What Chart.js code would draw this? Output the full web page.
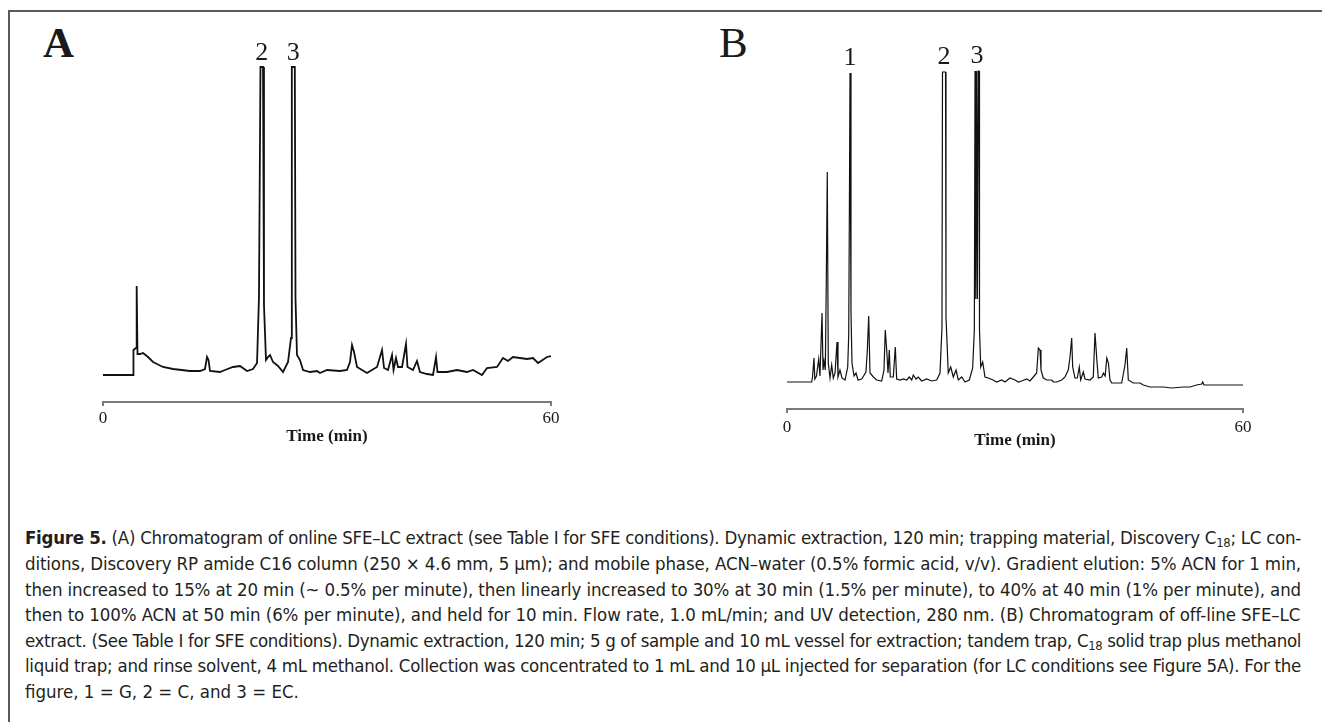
<!DOCTYPE html>
<html>
<head>
<meta charset="utf-8">
<script src="https://cdn.jsdelivr.net/npm/chart.js@4.4.1/dist/chart.umd.min.js"></script>
<style>
  html, body { margin: 0; padding: 0; background: #fff; }
  body { width: 1322px; height: 722px; position: relative; overflow: hidden; }
  .frame { position: absolute; left: 8px; top: 10px; width: 1400px; height: 800px;
           border-top: 2px solid #5a5a5a; border-left: 2px solid #5a5a5a; box-sizing: border-box; }
  .panel { position: absolute; font-family: "Liberation Serif", serif; font-size: 43px;
           line-height: 43px; color: #1a1a1a; }
  canvas.c { position: absolute; }
  .cap { position: absolute; left: 25px; width: 1276px; height: 26px; line-height: 26px;
         font-family: "Liberation Sans Narrow", "DejaVu Sans Condensed", sans-serif;
         font-size: 18.5px; color: #231f20; white-space: nowrap; }
  .cap span.t { display: inline-block; }
  .cap b { font-weight: bold; }
  .cap sub { font-size: 0.7em; line-height: 0; vertical-align: -0.25em; }
</style>
</head>
<body>
<div class="frame"></div>
<div class="panel" style="left:43px; top:21px; font-weight:bold;">A</div>
<div class="panel" style="left:719px; top:21px;">B</div>

<div style="position:absolute;left:80px;top:20px;width:500px;height:440px;"><canvas id="chartA" class="c"></canvas></div>
<div style="position:absolute;left:765px;top:20px;width:500px;height:440px;"><canvas id="chartB" class="c"></canvas></div>

<div class="cap" style="top:525px;"><span class="t"><b>Figure 5.</b> (A) Chromatogram of online SFE–LC extract (see Table I for SFE conditions). Dynamic extraction, 120 min; trapping material, Discovery C<sub>18</sub>; LC con-</span></div>
<div class="cap" style="top:551px;"><span class="t">ditions, Discovery RP amide C16 column (250 × 4.6 mm, 5 µm); and mobile phase, ACN–water (0.5% formic acid, v/v). Gradient elution: 5% ACN for 1 min,</span></div>
<div class="cap" style="top:577px;"><span class="t">then increased to 15% at 20 min (~ 0.5% per minute), then linearly increased to 30% at 30 min (1.5% per minute), to 40% at 40 min (1% per minute), and</span></div>
<div class="cap" style="top:602px;"><span class="t">then to 100% ACN at 50 min (6% per minute), and held for 10 min. Flow rate, 1.0 mL/min; and UV detection, 280 nm. (B) Chromatogram of off-line SFE–LC</span></div>
<div class="cap" style="top:628px;"><span class="t">extract. (See Table I for SFE conditions). Dynamic extraction, 120 min; 5 g of sample and 10 mL vessel for extraction; tandem trap, C<sub>18</sub> solid trap plus methanol</span></div>
<div class="cap" style="top:653px;"><span class="t">liquid trap; and rinse solvent, 4 mL methanol. Collection was concentrated to 1 mL and 10 µL injected for separation (for LC conditions see Figure 5A). For the</span></div>
<div class="cap last" style="top:679px;"><span class="t">figure, 1 = G, 2 = C, and 3 = EC.</span></div>

<script>
// ---------------- DATA ----------------
const xTickValues = [0, 60];
const xAxisTitle = 'Time (min)';

// Panel A: online SFE–LC (time in min, detector signal in arbitrary units)
const timesA = [0, 3.62, 4.02, 4.08, 4.42, 4.51, 4.62, 4.96, 5.36, 6.03, 6.70, 8.04, 9.38, 11.65, 12.99, 13.66, 13.93, 14.13, 14.33, 15.67, 16.34, 17.41, 18.35, 19.29, 20.09, 20.63, 20.89, 21.09, 21.43, 21.56, 21.83, 22.10, 22.37, 22.77, 23.44, 24.11, 24.78, 25.18, 25.29, 25.69, 25.78, 25.98, 26.38, 26.79, 27.72, 28.66, 29.06, 30.00, 31.74, 32.68, 33.08, 33.35, 33.62, 34.02, 35.36, 36.70, 37.37, 37.64, 38.17, 38.71, 38.91, 39.24, 39.51, 40.05, 40.58, 40.78, 41.52, 42.05, 42.45, 43.39, 44.20, 44.60, 44.80, 46.07, 47.41, 48.75, 49.55, 50.76, 51.43, 52.77, 53.57, 54.24, 54.91, 56.79, 57.59, 58.26, 59.46, 60];
const signalA = [27, 27, 27, 52, 54, 116, 48, 48, 49, 45, 40, 35, 33, 31, 31, 33, 45, 42, 31, 30, 32, 35, 36, 31, 33, 39, 105, 335, 335, 97, 42, 45, 47, 40, 36, 30, 40, 64, 335, 335, 104, 47, 42, 32, 30, 31, 29, 32, 31, 32, 40, 57, 50, 35, 29, 35, 52, 34, 32, 47, 32, 44, 35, 35, 58, 35, 32, 41, 30, 28, 27, 45, 30, 30, 32, 30, 32, 27, 34, 35, 44, 41, 45, 43, 44, 39, 45, 46];
const peakNamesA = ['2', '3'];
const peakTimesA = [21.26, 25.49];
const peakTopsA = [335, 335];

// Panel B: off-line SFE–LC
const timesB = [0, 3.25, 3.36, 3.55, 3.66, 3.88, 4.17, 4.34, 4.61, 4.74, 4.87, 5.04, 5.17, 5.30, 5.43, 5.66, 5.88, 6.09, 6.32, 6.58, 6.71, 6.97, 7.24, 7.63, 7.99, 8.12, 8.22, 8.29, 8.42, 8.55, 8.82, 9.08, 9.34, 9.83, 10.39, 10.57, 10.75, 10.92, 11.36, 11.80, 12.46, 12.76, 12.93, 13.12, 13.29, 13.46, 13.59, 13.99, 14.25, 14.43, 14.87, 15.30, 15.75, 16.09, 16.41, 16.62, 16.97, 17.28, 17.72, 18.38, 19.04, 19.70, 20.13, 20.39, 20.46, 20.86, 20.92, 21.22, 21.54, 21.88, 22.24, 22.54, 22.99, 23.42, 23.99, 24.43, 24.65, 24.74, 24.84, 24.95, 25.05, 25.16, 25.27, 25.33, 25.49, 25.75, 26.05, 26.49, 27.11, 27.59, 28.25, 28.68, 29.34, 30.00, 30.44, 30.88, 31.54, 31.97, 32.41, 32.85, 33.07, 33.29, 33.42, 33.72, 34.17, 34.83, 35.05, 35.49, 36.14, 36.58, 37.01, 37.24, 37.46, 37.59, 37.89, 38.20, 38.46, 38.64, 38.99, 39.21, 39.87, 40.30, 40.53, 40.75, 40.96, 41.41, 41.63, 41.86, 42.08, 42.29, 42.50, 42.73, 43.38, 44.04, 44.47, 44.70, 44.91, 45.57, 46.45, 46.88, 47.76, 49.51, 50.62, 52.14, 53.03, 53.91, 54.57, 54.70, 54.87, 56.54, 60.00];
const signalB = [27, 27, 32, 51, 30, 33, 50, 33, 96, 39, 48, 39, 127, 237, 46, 31, 44, 31, 36, 67, 32, 39, 31, 29, 42, 74, 216, 336, 97, 46, 33, 36, 29, 30, 37, 59, 93, 36, 32, 29, 28, 39, 79, 59, 36, 59, 32, 32, 62, 30, 29, 30, 29, 32, 29, 34, 30, 32, 28, 30, 28, 29, 36, 81, 337, 337, 92, 36, 42, 32, 39, 29, 32, 27, 29, 41, 79, 338, 110, 338, 110, 338, 338, 79, 42, 47, 32, 31, 29, 27, 29, 27, 31, 29, 27, 28, 30, 28, 32, 36, 61, 59, 39, 31, 29, 29, 27, 27, 29, 32, 39, 52, 71, 42, 31, 31, 42, 29, 37, 30, 29, 32, 76, 51, 31, 32, 36, 33, 51, 46, 29, 26, 26, 26, 44, 61, 29, 26, 26, 24, 22, 22, 21, 22, 22, 24, 25, 27, 24, 24, 24];
const peakNamesB = ['1', '2', '3'];
const peakTimesB = [8.29, 20.66, 25.0];
const peakTopsB = [336, 337, 338];

// ---------------- CHARTS ----------------
const peakLabelPlugin = {
  id: 'peakLabels',
  afterDatasetsDraw(chart, args, opts) {
    const {ctx, scales: {x, y}} = chart;
    ctx.save();
    ctx.fillStyle = '#1a1a1a';
    ctx.font = '26px "Liberation Serif", serif';
    ctx.textAlign = 'center';
    ctx.textBaseline = 'alphabetic';
    opts.names.forEach((n, i) => {
      ctx.fillText(n, x.getPixelForValue(opts.times[i]), y.getPixelForValue(opts.tops[i]) - opts.gap);
    });
    ctx.restore();
  }
};

function makeChart(id, times, signal, cfg) {
  const pts = times.map((t, i) => ({x: t, y: signal[i]}));
  return new Chart(document.getElementById(id), {
    type: 'line',
    data: { datasets: [{ data: pts, borderColor: '#111', borderWidth: cfg.lw, pointRadius: 0,
                         tension: 0, fill: false, borderJoinStyle: 'miter' }] },
    options: {
      responsive: true, maintainAspectRatio: false, animation: false,
      layout: { padding: cfg.pad },
      plugins: { legend: { display: false }, tooltip: { enabled: false },
                 peakLabels: { names: cfg.names, times: cfg.ptimes, tops: cfg.tops, gap: cfg.gap } },
      scales: {
        x: {
          type: 'linear', min: 0, max: 60, offset: false,
          afterBuildTicks: (s) => { s.ticks = xTickValues.map(v => ({value: v})); },
          afterFit: (s) => { s.height = cfg.axisH; },
          border: { display: true, color: '#7a7a7a', width: 2 },
          grid: { display: true, drawOnChartArea: false, drawTicks: true, tickLength: 4,
                  color: '#7a7a7a', lineWidth: 2 },
          ticks: { color: '#1a1a1a', padding: cfg.tickPad, maxRotation: 0,
                   font: { family: '"Liberation Serif", serif', size: 17 } },
          title: { display: true, text: xAxisTitle, color: '#1a1a1a',
                   padding: { top: 0, bottom: cfg.titlePad },
                   font: { family: '"Liberation Serif", serif', size: 17, weight: 'bold' } }
        },
        y: { display: false, min: 0, max: cfg.ymax }
      }
    },
    plugins: [peakLabelPlugin]
  });
}

makeChart('chartA', timesA, signalA, {
  lw: 1.8, pad: {left: 23, right: 29, top: 40, bottom: 0}, axisH: 58, tickPad: 2, titlePad: 13,
  ymax: 342, names: peakNamesA, ptimes: peakTimesA, tops: peakTopsA, gap: 7
});
makeChart('chartB', timesB, signalB, {
  lw: 1.2, pad: {left: 22, right: 22, top: 40, bottom: 0}, axisH: 51, tickPad: 4, titlePad: 9,
  ymax: 349, names: peakNamesB, ptimes: peakTimesB, tops: peakTopsB, gap: 8
});

// ---------------- CAPTION JUSTIFICATION ----------------
function justifyCaption() {
  document.querySelectorAll('.cap').forEach(el => {
    const span = el.querySelector('span.t');
    span.style.wordSpacing = '0px';
    span.style.letterSpacing = '0px';
    if (el.classList.contains('last')) return;
    const target = el.clientWidth;
    const w = span.getBoundingClientRect().width;
    const spaces = (span.textContent.match(/ /g) || []).length;
    if (w < target) {
      span.style.wordSpacing = ((target - w) / spaces) + 'px';
    } else {
      span.style.letterSpacing = ((target - w) / span.textContent.length) + 'px';
    }
  });
}
justifyCaption();
if (document.fonts && document.fonts.ready) document.fonts.ready.then(justifyCaption);
</script>
</body>
</html>
